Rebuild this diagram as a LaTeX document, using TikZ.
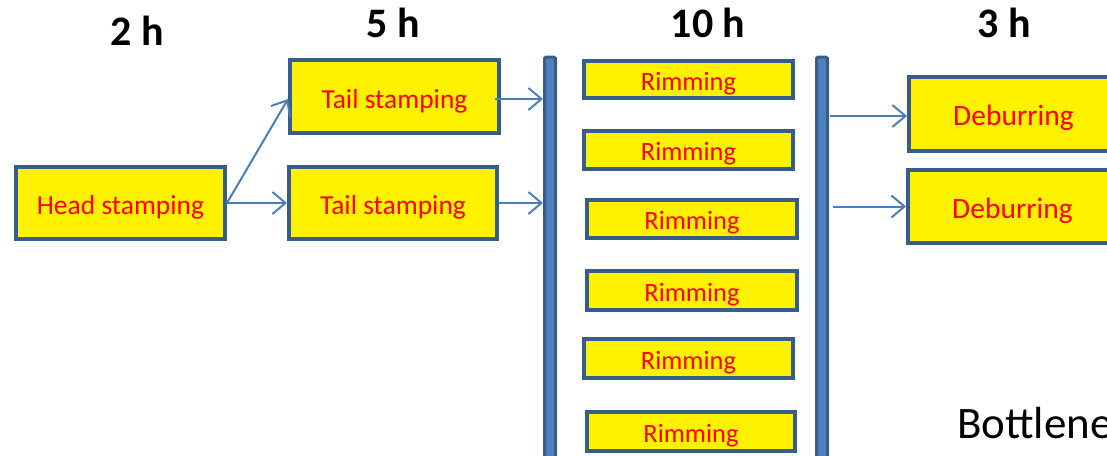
\documentclass[tikz,border=0pt]{standalone}
\usepackage{fontspec}
\setmainfont{Carlito}
\usetikzlibrary{arrows.meta}
\definecolor{boxline}{HTML}{385D8A}
\definecolor{arrowc}{HTML}{4A7EBB}
\definecolor{barfill}{HTML}{4F81BD}
\begin{document}
\begin{tikzpicture}[x=1pt,y=-1pt,
 proc/.style={draw=boxline,line width=4pt,fill=yellow,text=red,inner sep=0pt,anchor=center,minimum width=209pt},
 bigtxt/.style={font=\fontsize{27.5}{32}\selectfont,text height=28.5pt,text depth=5.5pt},
 rimtxt/.style={font=\fontsize{26.5}{31}\selectfont,text height=27pt,text depth=5.3pt},
 debtxt/.style={font=\fontsize{29.5}{34}\selectfont,text height=29.5pt,text depth=5.9pt},
 bar/.style={draw=boxline,line width=3pt,fill=barfill,rounded corners=1.5pt,inner sep=0pt,minimum width=11pt,minimum height=410pt},
 flow/.style={draw=arrowc,line width=2pt,-{Straight Barb[length=13pt,width=22pt,line width=2pt]}},
 hdr/.style={font=\fontsize{42}{46}\selectfont\bfseries}]
\path[use as bounding box] (0,0) rectangle (1107,455);
\clip (0,0) rectangle (1107,455);

% headers
\node[hdr] (h1) at (137,31) {2 h};
\node[hdr] (h2) at (393,23) {5 h};
\node[hdr] (h3) at (708,23) {10 h};
\node[hdr] (h4) at (1004,23) {3 h};

% process boxes
\node[proc,bigtxt,minimum height=72pt] (head) at (120.5,203) {Head stamping};
\node[proc,bigtxt,minimum height=73pt] (tail1) at (394.5,96.5) {Tail stamping};
\node[proc,bigtxt,minimum height=72pt,minimum width=208pt] (tail2) at (393,203) {Tail stamping};

\node[proc,rimtxt,minimum height=37pt] (r1) at (688.5,79.5) {Rimming};
\node[proc,rimtxt,minimum height=38pt] (r2) at (688.5,150) {Rimming};
\node[proc,rimtxt,minimum height=38pt,minimum width=210pt] (r3) at (692,219) {Rimming};
\node[proc,rimtxt,minimum height=39pt,minimum width=210pt] (r4) at (692,290.5) {Rimming};
\node[proc,rimtxt,minimum height=39pt] (r5) at (688.5,358.5) {Rimming};
\node[proc,rimtxt,minimum height=39pt,minimum width=208pt] (r6) at (691,431.5) {Rimming};

\node[proc,debtxt,minimum height=74pt] (d1) at (1013.5,114) {Deburring};
\node[proc,debtxt,minimum height=73pt] (d2) at (1012.5,206.5) {Deburring};

% bars
\node[bar] (barL) at (550,262) {};
\node[bar] (barR) at (822,262) {};

% connectors
\draw[flow] (head.east) -- ([yshift=-2.5pt]tail1.west);
\draw[flow] (head.east) -- (tail2.west);
\draw[flow] ([xshift=-6pt,yshift=-2.5pt]tail1.east) -- ([yshift=-2.5pt]tail1.east -| barL.west);
\draw[flow] (tail2.east) -- (tail2.east -| barL.west);
\draw[flow] ([xshift=1pt,yshift=-2pt]barR.east |- d1.west) -- ([yshift=-2pt]d1.west);
\draw[flow] ([xshift=4pt]barR.east |- d2.west) -- (d2.west);

% note
\node[anchor=base west,font=\fontsize{45}{50}\selectfont,inner sep=0pt] (note) at (957,438) {Bottlene};
\end{tikzpicture}
\end{document}
